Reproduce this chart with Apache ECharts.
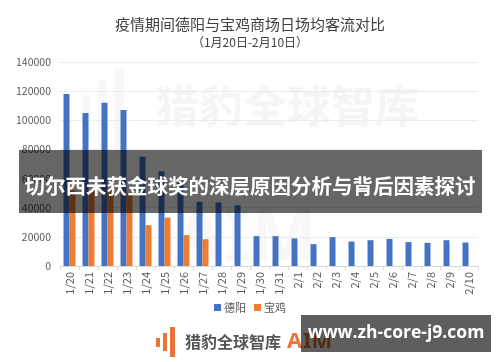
<!DOCTYPE html>
<html>
<head>
<meta charset="utf-8">
<script src="https://cdn.jsdelivr.net/npm/echarts@6/dist/echarts.min.js"></script>
<style>
html,body{margin:0;padding:0;background:#fff;}
#c{width:500px;height:362px;}
</style>
</head>
<body>
<div id="c"></div>
<script>
const categories = ['1/20','1/21','1/22','1/23','1/24','1/25','1/26','1/27','1/28','1/29','1/30','1/31','2/1','2/2','2/3','2/4','2/5','2/6','2/7','2/8','2/9','2/10'];
const deyang = [118000,105000,112000,107000,75000,65000,58000,44000,43700,41600,20500,20500,18900,15000,19800,16800,17700,18600,16400,15900,17700,16100];
const baoji = [52000,51000,52000,50000,28000,33200,21200,18400,null,null,null,null,null,null,null,null,null,null,null,null,null,null];
const yTicks = [0,20000,40000,60000,80000,100000,120000,140000];
const seriesNames = ['德阳','宝鸡'];
const titleText = '疫情期间德阳与宝鸡商场日场均客流对比';
const subTitleText = '（1月20日-2月10日）';
const bannerText = '切尔西未获金球奖的深层原因分析与背后因素探讨';
const siteText = 'www.zh-core-j9.com';
const brandText = '猎豹全球智库';

const chart = echarts.init(document.getElementById('c'), null, {renderer:'canvas'});
const font = '"Noto Sans CJK SC","Noto Sans",sans-serif';
chart.setOption({
  animation:false,
  backgroundColor:'#fff',
  title:{
    text:titleText,
    subtext:subTitleText,
    left:'center',
    top:12,
    itemGap:4,
    textStyle:{fontSize:15,fontWeight:'normal',color:'#404040',fontFamily:font},
    subtextStyle:{fontSize:12,color:'#404040',fontFamily:font}
  },
  grid:{left:60,right:22,top:62,bottom:96},
  legend:{
    data:seriesNames,
    bottom:44,
    left:'center',
    itemWidth:7,itemHeight:7,itemGap:8,
    icon:'rect',
    textStyle:{fontSize:11,color:'#595959',fontFamily:font,padding:[0,0,0,-2]}
  },
  xAxis:{
    type:'category',
    data:categories,
    axisLine:{lineStyle:{color:'#d9d9d9'}},
    axisTick:{show:true,length:4,lineStyle:{color:'#d9d9d9'}},
    axisLabel:{rotate:90,fontSize:11,color:'#595959',margin:6,fontFamily:font,interval:0}
  },
  yAxis:{
    type:'value',
    min:yTicks[0],
    max:yTicks[yTicks.length-1],
    interval:yTicks[1]-yTicks[0],
    axisLine:{show:false},
    axisTick:{show:false},
    splitLine:{lineStyle:{color:'#ececec'}},
    axisLabel:{fontSize:10.5,color:'#595959',margin:9,fontFamily:font,formatter:function(v){return String(v);}}
  },
  series:[
    {name:seriesNames[0],type:'bar',data:deyang,barGap:'0%',barCategoryGap:'37%',itemStyle:{color:'#4472C4'},z:2},
    {name:seriesNames[1],type:'bar',data:baoji,itemStyle:{color:'#ED7D31'},z:2}
  ],
  graphic:[
    {type:'group',z:1,silent:true,children:[
      {type:'rect',shape:{x:82,y:95,width:9,height:45},style:{fill:'rgba(200,200,200,0.12)'}},
      {type:'rect',shape:{x:98,y:80,width:9,height:70},style:{fill:'rgba(200,200,200,0.12)'}},
      {type:'rect',shape:{x:114,y:68,width:10,height:90},style:{fill:'rgba(200,200,200,0.12)'}},
      {type:'text',style:{text:brandText,x:155,y:106,fill:'rgba(200,200,200,0.18)',font:'bold 44px "Noto Sans CJK SC",sans-serif',textVerticalAlign:'middle'}},
      {type:'text',style:{text:'AIM',x:175,y:240,fill:'rgba(200,200,200,0.12)',font:'bold 70px "Noto Sans",sans-serif',textVerticalAlign:'middle'}}
    ]},
    {type:'rect',z:100,shape:{x:19,y:150,width:463,height:63},style:{fill:'rgba(0,0,0,0.6)'}},
    {type:'text',z:101,style:{text:bannerText,x:250,y:186,textAlign:'center',textVerticalAlign:'middle',fill:'#fff',font:'bold 20.5px "Noto Sans CJK SC",sans-serif'}},
    {type:'group',z:50,children:[
      {type:'rect',shape:{x:156,y:338,width:4,height:9},style:{fill:'#E8763A'}},
      {type:'rect',shape:{x:163,y:333,width:4,height:18},style:{fill:'#E8763A'}},
      {type:'rect',shape:{x:170,y:327,width:5,height:30},style:{fill:'#E8763A'}},
      {type:'text',style:{text:brandText,x:185,y:342,textVerticalAlign:'middle',fill:'#555',font:'bold 16px "Noto Sans CJK SC",sans-serif'}},
      {type:'text',style:{text:'A',x:287,y:342,textVerticalAlign:'middle',fill:'#E8763A',font:'bold 22px "Noto Sans",sans-serif'}},
      {type:'text',style:{text:'IM',x:303,y:342,textVerticalAlign:'middle',fill:'#E8763A',font:'bold 22px "Noto Sans",sans-serif'}}
    ]},
    {type:'rect',z:100,shape:{x:301,y:315,width:190,height:37},style:{fill:'rgba(0,0,0,0.63)'}},
    {type:'text',z:101,style:{text:siteText,x:396,y:333,textAlign:'center',textVerticalAlign:'middle',fill:'#fff',font:'bold 17.5px "Open Sans",sans-serif'}}
  ]
});
</script>
</body>
</html>
